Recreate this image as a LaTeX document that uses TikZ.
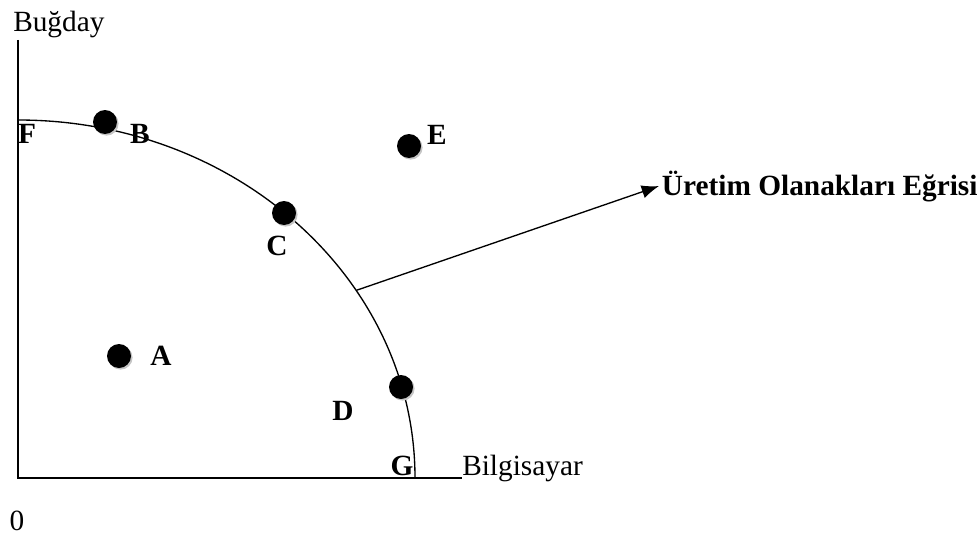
\documentclass[tikz,border=0pt]{standalone}
\usepackage{fontspec}
\setmainfont{Liberation Serif}
\usetikzlibrary{arrows.meta,shadows}
\begin{document}
\begin{tikzpicture}[x=0.75pt, y=0.75pt, font=\fontsize{22}{26}\selectfont,
    axis/.style={line width=0.9pt},
    ppf/.style={line width=1pt},
    dot/.style={circle, fill=black, inner sep=0pt, minimum size=18pt,
      drop shadow={shadow xshift=1.2pt, shadow yshift=-1.2pt, fill=gray!45, opacity=1}},
    lab/.style={font=\fontsize{22}{26}\selectfont\bfseries, anchor=base, inner sep=0pt}]
  \useasboundingbox (-18,-62) rectangle (959,478);
  % axes
  \coordinate (origin) at (0,0);
  \coordinate (ytop) at (0,438);
  \coordinate (xend) at (444,0);
  \draw[axis] (ytop) -- (origin) -- (xend);
  \node[anchor=base west, inner sep=0pt] (ylab) at (-5,446) {Buğday};
  \node[anchor=base west, inner sep=0pt] (xlab) at (444,3) {Bilgisayar};
  \node[anchor=base, inner sep=0pt] (zero) at (-1,-52) {0};
  % production possibility curve
  \draw[ppf] (0,358) arc[start angle=90, end angle=0, x radius=397, y radius=358];
  \coordinate (curvept) at ({397*cos(31.6)},{358*sin(31.6)});
  % points
  \node[dot] (dotB) at (87,356) {};
  \node[dot] (dotC) at (266,265) {};
  \node[dot] (dotD) at (383,91) {};
  \node[dot] (dotE) at (391,332) {};
  \node[dot] (dotA) at (101,122) {};
  % letters
  \node[lab] (labF) at (9,335) {F};
  \node[lab] (labB) at (122,335) {B};
  \node[lab] (labC) at (259,223) {C};
  \node[lab] (labD) at (325,58) {D};
  \node[lab] (labE) at (419,334) {E};
  \node[lab] (labA) at (143,113) {A};
  \node[lab] (labG) at (384,3) {G};
  % curve label
  \node[lab, anchor=base west, inner sep=2pt] (ppflab) at (641,283) {Üretim Olanakları Eğrisi};
  \draw[line width=1pt, -{Latex[length=13pt, width=10pt]}] (curvept) -- (ppflab.west);
\end{tikzpicture}
\end{document}
